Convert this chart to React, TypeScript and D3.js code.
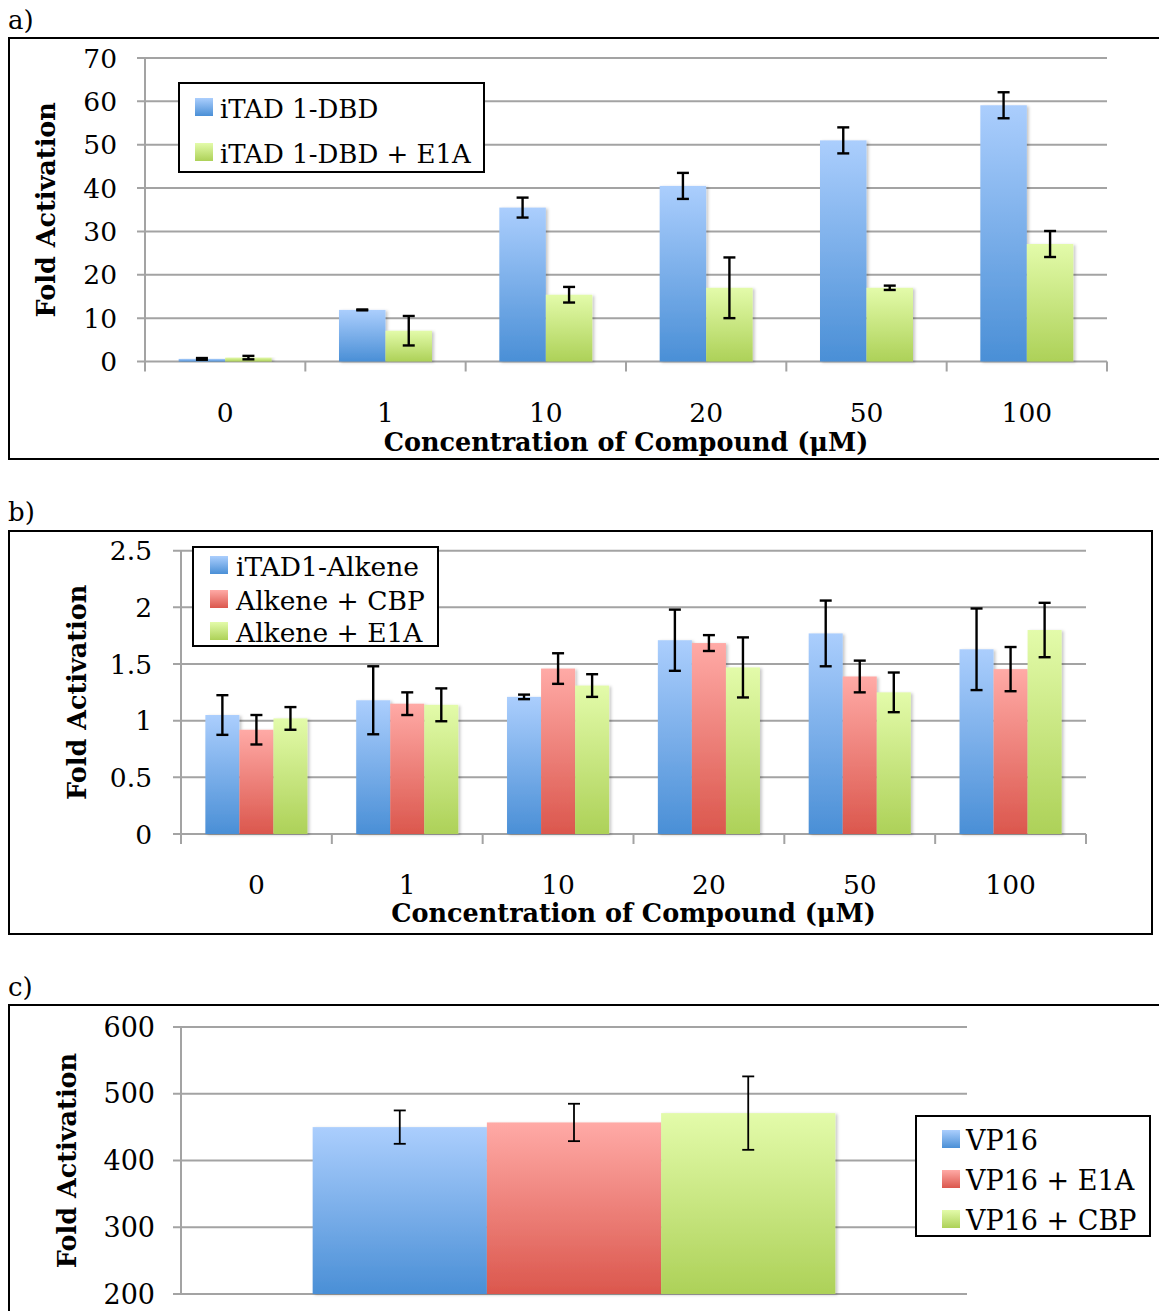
import React from "react";
import * as d3 from "d3";

// ---------- DATA ----------
const concentrations = ["0", "1", "10", "20", "50", "100"];

const aSeriesNames = ["iTAD 1-DBD", "iTAD 1-DBD + E1A"];
const aDbd = [0.6, 11.9, 35.5, 40.5, 51.0, 59.1];
const aDbdErr = [0.2, 0.1, 2.3, 3.0, 3.0, 3.0];
const aDbdE1A = [0.9, 7.1, 15.4, 17.0, 17.0, 27.1];
const aDbdE1AErr = [0.4, 3.4, 1.8, 7.0, 0.5, 3.0];
const aTicks = [0, 10, 20, 30, 40, 50, 60, 70];

const bSeriesNames = ["iTAD1-Alkene", "Alkene + CBP", "Alkene + E1A"];
const bAlkene = [1.05, 1.18, 1.21, 1.71, 1.77, 1.63];
const bAlkeneErr = [0.175, 0.3, 0.02, 0.27, 0.29, 0.36];
const bCBP = [0.92, 1.15, 1.46, 1.685, 1.39, 1.455];
const bCBPErr = [0.13, 0.1, 0.135, 0.07, 0.14, 0.195];
const bE1A = [1.02, 1.14, 1.31, 1.47, 1.25, 1.8];
const bE1AErr = [0.1, 0.145, 0.1, 0.265, 0.175, 0.24];
const bTicks = [0, 0.5, 1, 1.5, 2, 2.5];

const cCategories = [""];
const cSeriesNames = ["VP16", "VP16 + E1A", "VP16 + CBP"];
const cVP16 = [450];
const cVP16Err = [25];
const cVP16E1A = [457];
const cVP16E1AErr = [28];
const cVP16CBP = [471];
const cVP16CBPErr = [55];
const cTicks = [200, 300, 400, 500, 600];

const xTitle = "Concentration of Compound (μM)";
const yTitle = "Fold Activation";

// ---------- STYLE ----------
const FONT = "'DejaVu Serif', 'Liberation Serif', serif";
const GRID = "#a3a3a3";
const gradBlue = ["#abcefd", "#4a8fd6"];
const gradRed = ["#ffaaa6", "#db574d"];
const gradGreen = ["#e3fbaa", "#add158"];

type Series = { name: string; values: number[]; errors: number[]; grad: string };

type PanelCfg = {
  id: string;
  label: string;
  labelY: number;
  box: [number, number, number, number];
  categories: string[];
  series: Series[];
  yDomain: [number, number];
  yTicks: number[];
  yTop: number;
  yBottom: number;
  x0: number;
  x1: number;
  groupFrac: number;
  tickLabelX: number;
  tickFont: number;
  catLabelY?: number;
  titleY?: number;
  titleFont: number;
  yTitleX: number;
  catTicks: boolean;
  errW: number;
  capW: number;
  legend: { x: number; y: number; w: number; h: number; swX: number; sw: number; textX: number; baselines: number[]; font: number };
};

function Panel({ cfg }: { cfg: PanelCfg }) {
  const x = d3.scaleBand<string>().domain(cfg.categories).range([cfg.x0, cfg.x1]).padding(0);
  const groupW = x.bandwidth() * cfg.groupFrac;
  const inner = d3
    .scaleBand<string>()
    .domain(cfg.series.map((s) => s.name))
    .range([0, groupW])
    .padding(0);
  const y = d3.scaleLinear().domain(cfg.yDomain).range([cfg.yBottom, cfg.yTop]);
  const off = (x.bandwidth() - groupW) / 2;
  const [bx, by, bw, bh] = cfg.box;
  const yMid = (cfg.yTop + cfg.yBottom) / 2;
  const L = cfg.legend;

  return (
    <g>
      <text x={8} y={cfg.labelY} fontFamily={FONT} fontSize={26} fill="#000">
        {cfg.label}
      </text>
      <rect x={bx} y={by} width={bw} height={bh} fill="#fff" stroke="#000" strokeWidth={2} />
      {/* gridlines */}
      {cfg.yTicks.map((t) => (
        <line key={"g" + t} x1={cfg.x0 - 8} x2={cfg.x1} y1={y(t)} y2={y(t)} stroke={GRID} strokeWidth={2} />
      ))}
      {/* y axis */}
      <line x1={cfg.x0} x2={cfg.x0} y1={cfg.yTop} y2={cfg.yBottom + (cfg.catTicks ? 10 : 0)} stroke={GRID} strokeWidth={2} />
      {cfg.catTicks &&
        cfg.categories.map((c) => (
          <line
            key={"ct" + c}
            x1={(x(c) as number) + x.bandwidth()}
            x2={(x(c) as number) + x.bandwidth()}
            y1={cfg.yBottom}
            y2={cfg.yBottom + 10}
            stroke={GRID}
            strokeWidth={2}
          />
        ))}
      {/* y tick labels */}
      {cfg.yTicks.map((t) => (
        <text
          key={"yl" + t}
          x={cfg.tickLabelX}
          y={y(t)}
          dy="0.36em"
          textAnchor="end"
          fontFamily={FONT}
          fontSize={cfg.tickFont}
          fill="#000"
        >
          {String(t)}
        </text>
      ))}
      {/* bars */}
      {cfg.series.map((s) =>
        cfg.categories.map((c, i) => {
          const bx0 = (x(c) as number) + off + (inner(s.name) as number);
          const top = y(s.values[i]);
          return (
            <rect
              key={s.name + c}
              x={bx0}
              y={top}
              width={inner.bandwidth()}
              height={cfg.yBottom - top}
              fill={`url(#${s.grad})`}
              filter="url(#shadow)"
            />
          );
        })
      )}
      {/* error bars */}
      {cfg.series.map((s) =>
        cfg.categories.map((c, i) => {
          const cx = (x(c) as number) + off + (inner(s.name) as number) + inner.bandwidth() / 2;
          const yHi = y(s.values[i] + s.errors[i]);
          const yLo = y(s.values[i] - s.errors[i]);
          return (
            <g key={"e" + s.name + c} stroke="#000" strokeWidth={cfg.errW}>
              <line x1={cx} x2={cx} y1={yHi} y2={yLo} />
              <line x1={cx - cfg.capW / 2} x2={cx + cfg.capW / 2} y1={yHi} y2={yHi} />
              <line x1={cx - cfg.capW / 2} x2={cx + cfg.capW / 2} y1={yLo} y2={yLo} />
            </g>
          );
        })
      )}
      {/* category labels */}
      {cfg.catLabelY !== undefined &&
        cfg.categories.map((c) => (
          <text
            key={"cl" + c}
            x={(x(c) as number) + x.bandwidth() / 2}
            y={cfg.catLabelY}
            textAnchor="middle"
            fontFamily={FONT}
            fontSize={cfg.tickFont}
            fill="#000"
          >
            {c}
          </text>
        ))}
      {cfg.titleY !== undefined && (
        <text
          x={(cfg.x0 + cfg.x1) / 2}
          y={cfg.titleY}
          textAnchor="middle"
          fontFamily={FONT}
          fontWeight="bold"
          fontSize={cfg.titleFont}
          fill="#000"
        >
          {xTitle}
        </text>
      )}
      <text
        transform={`translate(${cfg.yTitleX},${yMid}) rotate(-90)`}
        textAnchor="middle"
        fontFamily={FONT}
        fontWeight="bold"
        fontSize={cfg.titleFont}
        fill="#000"
      >
        {yTitle}
      </text>
      {/* legend */}
      <rect x={L.x} y={L.y} width={L.w} height={L.h} fill="#fff" stroke="#000" strokeWidth={2} />
      {cfg.series.map((s, i) => (
        <g key={"lg" + s.name}>
          <rect x={L.swX} y={L.baselines[i] - L.sw - 2} width={L.sw} height={L.sw} fill={`url(#${s.grad})`} />
          <text x={L.textX} y={L.baselines[i]} fontFamily={FONT} fontSize={L.font} fill="#000">
            {s.name}
          </text>
        </g>
      ))}
    </g>
  );
}

const panelA: PanelCfg = {
  id: "a",
  label: "a)",
  labelY: 29,
  box: [9, 38, 1160, 421],
  categories: concentrations,
  series: [
    { name: aSeriesNames[0], values: aDbd, errors: aDbdErr, grad: "gBlue" },
    { name: aSeriesNames[1], values: aDbdE1A, errors: aDbdE1AErr, grad: "gGreen" },
  ],
  yDomain: [0, 70],
  yTicks: aTicks,
  yTop: 58,
  yBottom: 361.5,
  x0: 145,
  x1: 1107,
  groupFrac: 0.58,
  tickLabelX: 117,
  tickFont: 26.5,
  catLabelY: 422,
  titleY: 451,
  titleFont: 25.5,
  yTitleX: 55,
  catTicks: true,
  errW: 2.4,
  capW: 12,
  legend: { x: 179, y: 83, w: 305, h: 89, swX: 195, sw: 18, textX: 220, baselines: [118, 163], font: 26 },
};

const panelB: PanelCfg = {
  id: "b",
  label: "b)",
  labelY: 521,
  box: [9, 531, 1143, 403],
  categories: concentrations,
  series: [
    { name: bSeriesNames[0], values: bAlkene, errors: bAlkeneErr, grad: "gBlue" },
    { name: bSeriesNames[1], values: bCBP, errors: bCBPErr, grad: "gRed" },
    { name: bSeriesNames[2], values: bE1A, errors: bE1AErr, grad: "gGreen" },
  ],
  yDomain: [0, 2.5],
  yTicks: bTicks,
  yTop: 550.7,
  yBottom: 834,
  x0: 181,
  x1: 1086,
  groupFrac: 0.677,
  tickLabelX: 152,
  tickFont: 26.5,
  catLabelY: 894,
  titleY: 922,
  titleFont: 25.5,
  yTitleX: 86,
  catTicks: true,
  errW: 2.4,
  capW: 12,
  legend: { x: 193, y: 547, w: 245, h: 99, swX: 210, sw: 18, textX: 236, baselines: [576, 610, 642], font: 26.5 },
};

const panelC: PanelCfg = {
  id: "c",
  label: "c)",
  labelY: 996,
  box: [9, 1005, 1160, 400],
  categories: cCategories,
  series: [
    { name: cSeriesNames[0], values: cVP16, errors: cVP16Err, grad: "gBlue" },
    { name: cSeriesNames[1], values: cVP16E1A, errors: cVP16E1AErr, grad: "gRed" },
    { name: cSeriesNames[2], values: cVP16CBP, errors: cVP16CBPErr, grad: "gGreen" },
  ],
  yDomain: [200, 600],
  yTicks: cTicks,
  yTop: 1027,
  yBottom: 1294,
  x0: 181,
  x1: 967,
  groupFrac: 0.665,
  tickLabelX: 155,
  tickFont: 27,
  titleFont: 25.5,
  yTitleX: 76,
  catTicks: false,
  errW: 1.8,
  capW: 12,
  legend: { x: 916, y: 1116, w: 234, h: 120, swX: 942, sw: 18, textX: 966, baselines: [1150, 1190, 1230], font: 27 },
};

function Grad({ id, stops }: { id: string; stops: string[] }) {
  return (
    <linearGradient id={id} x1="0" y1="0" x2="0" y2="1">
      <stop offset="0%" stopColor={stops[0]} />
      <stop offset="100%" stopColor={stops[1]} />
    </linearGradient>
  );
}

export default function App() {
  return (
    <div style={{ position: "absolute", left: 0, top: 0 }}>
      <svg width={1159} height={1311} style={{ display: "block", background: "#fff" }}>
        <defs>
          <Grad id="gBlue" stops={gradBlue} />
          <Grad id="gRed" stops={gradRed} />
          <Grad id="gGreen" stops={gradGreen} />
          <filter id="shadow" x="-10%" y="-5%" width="130%" height="115%">
            <feDropShadow dx="2" dy="1" stdDeviation="1.5" floodColor="#000" floodOpacity="0.22" />
          </filter>
        </defs>
        <rect x={0} y={0} width={1159} height={1311} fill="#fff" />
        <Panel cfg={panelA} />
        <Panel cfg={panelB} />
        <Panel cfg={panelC} />
      </svg>
    </div>
  );
}
